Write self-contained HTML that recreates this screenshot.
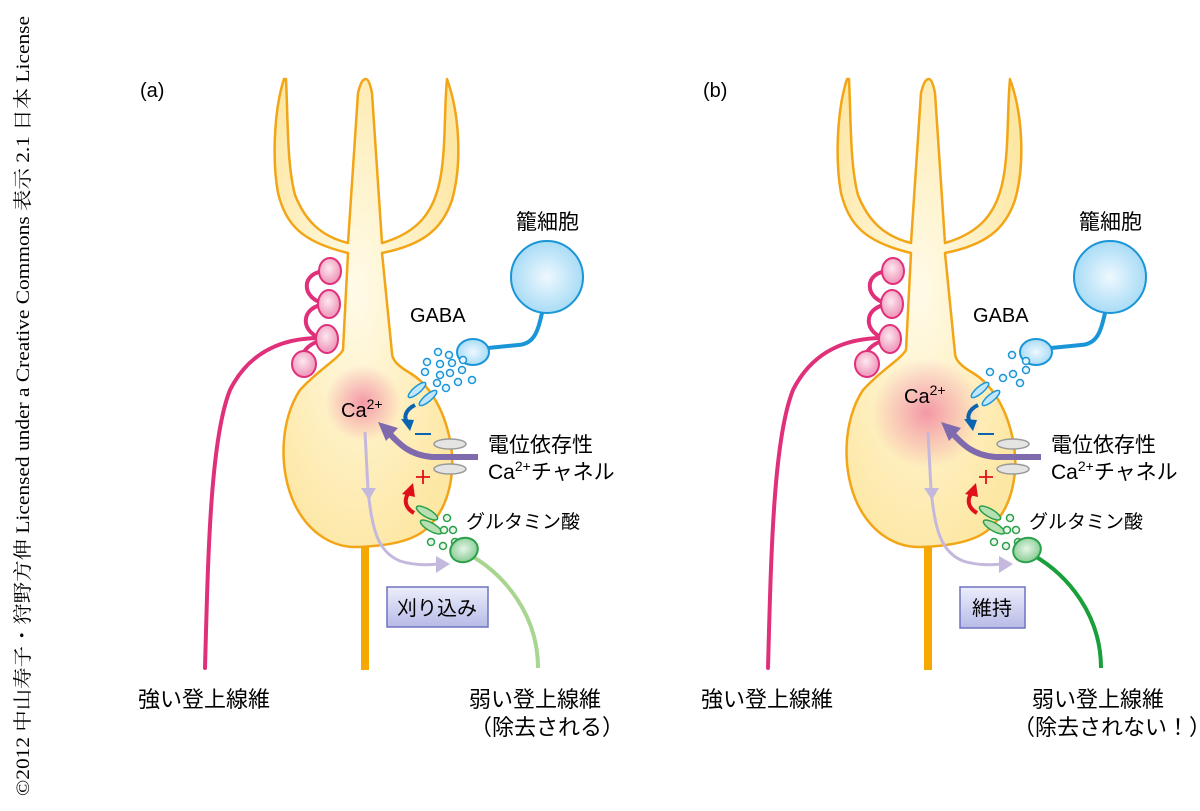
<!DOCTYPE html>
<html><head><meta charset="utf-8"><style>
html,body{margin:0;padding:0;background:#fff;}
svg{display:block;font-family:"Liberation Sans","Noto Sans CJK JP",sans-serif;}
</style></head><body>
<svg width="1200" height="811" viewBox="0 0 1200 811" xmlns="http://www.w3.org/2000/svg">
<defs>
<radialGradient id="soma" cx="0.45" cy="0.45" r="0.6"><stop offset="0" stop-color="#fffbe8"/><stop offset="1" stop-color="#fde7a4"/></radialGradient>
<radialGradient id="glowA"><stop offset="0" stop-color="#f07a9a" stop-opacity="0.75"/><stop offset="1" stop-color="#f07a9a" stop-opacity="0"/></radialGradient>
<radialGradient id="pinkE" cx="0.45" cy="0.4"><stop offset="0" stop-color="#fde8f0"/><stop offset="1" stop-color="#f0a0c0"/></radialGradient>
<radialGradient id="blueE" cx="0.5" cy="0.5"><stop offset="0" stop-color="#eef8fe"/><stop offset="1" stop-color="#a9dcf6"/></radialGradient>
<radialGradient id="greenE" cx="0.5" cy="0.45"><stop offset="0" stop-color="#e6f5e6"/><stop offset="1" stop-color="#8fd09a"/></radialGradient>
<linearGradient id="box" x1="0" y1="0" x2="0" y2="1"><stop offset="0" stop-color="#eceefb"/><stop offset="1" stop-color="#b7bbe6"/></linearGradient>
</defs>

<text transform="translate(29,796) rotate(-90)" font-family="'Liberation Serif','Noto Serif CJK SC',serif" font-size="19" textLength="780" lengthAdjust="spacingAndGlyphs">©2012 中山寿子・狩野方伸 Licensed under a Creative Commons 表示 2.1 日本 License</text>

<g>
<rect x="361" y="545" width="8" height="125" fill="#f4a800"/>
<path d="M284,79 C274,110 272,160 278,193 C286,225 302,242 348,253 L343,350 C337,360 318,370 300,390 C280,420 278,470 295,505 C310,535 335,548 358,547 C390,546 418,540 430,525 C450,505 456,470 450,440 C444,410 430,385 410,373 C398,366 392,360 392,353 L382,253 C422,245 442,230 452,200 C462,165 460,115 447,79 C444,110 446,150 440,180 C434,210 420,232 382,243 L372,93 C370,83 368,79 366,79 C362,79 360,85 358,93 L348,243 C320,236 305,220 295,195 C287,165 288,120 286,79 Z" fill="url(#soma)" stroke="#f2a516" stroke-width="2.5" stroke-linejoin="round"/>
<circle cx="363" cy="403" r="38" fill="url(#glowA)"/>
<g fill="none" stroke="#e0307a" stroke-width="4" stroke-linecap="round">
<path d="M205,668 C208,560 210,440 230,390 C250,350 285,338 320,338"/>
<path d="M327,271 C300,271 300,300 327,304 M327,304 C298,306 300,335 325,339 M322,340 C305,345 300,355 303,364"/>
</g>
<g fill="url(#pinkE)" stroke="#e0307a" stroke-width="2">
<ellipse cx="330" cy="271" rx="11" ry="13"/><ellipse cx="329" cy="304" rx="11" ry="14"/><ellipse cx="327" cy="339" rx="11" ry="14"/><ellipse cx="304" cy="364" rx="12" ry="13"/>
</g>
<circle cx="547" cy="277" r="36" fill="url(#blueE)" stroke="#1a95d8" stroke-width="2"/>
<path d="M542,313 C538,330 535,344 518,345 L488,348" fill="none" stroke="#1a95d8" stroke-width="4"/>
<ellipse cx="473" cy="352" rx="16" ry="13" fill="url(#blueE)" stroke="#1a95d8" stroke-width="2"/>
<g fill="#eaf6fd" stroke="#1a95d8" stroke-width="1.5">
<circle cx="438" cy="352" r="3.5"/><circle cx="449" cy="355" r="3.5"/><circle cx="427" cy="362" r="3.5"/><circle cx="440" cy="364" r="3.5"/><circle cx="452" cy="363" r="3.5"/><circle cx="463" cy="360" r="3.5"/><circle cx="425" cy="372" r="3.5"/><circle cx="440" cy="375" r="3.5"/><circle cx="450" cy="373" r="3.5"/><circle cx="462" cy="370" r="3.5"/><circle cx="472" cy="380" r="3.5"/><circle cx="437" cy="383" r="3.5"/><circle cx="446" cy="388" r="3.5"/><circle cx="458" cy="382" r="3.5"/>
</g>
<g fill="#bfe6fa" stroke="#1a95d8" stroke-width="1.5">
<ellipse cx="417" cy="390" rx="11" ry="3.5" transform="rotate(-40 417 390)"/>
<ellipse cx="428" cy="398" rx="11" ry="3.5" transform="rotate(-40 428 398)"/>
</g>
<path d="M415,405 C405,410 403,418 408,423" fill="none" stroke="#0a64b0" stroke-width="4"/>
<path d="M401,419 L414,420 L410,431 Z" fill="#0a64b0"/>
<line x1="415" y1="434" x2="431" y2="434" stroke="#0a64b0" stroke-width="2"/>
<text x="410" y="322" font-size="20">GABA</text>
<text x="516" y="229" font-size="21">籠細胞</text>
<path d="M478,457 L432,457 C410,455 400,445 388,432" fill="none" stroke="#7f6aae" stroke-width="6"/>
<path d="M378,422 L398,428 L386,441 Z" fill="#7f6aae"/>
<g fill="#e4e4e2" stroke="#999" stroke-width="1.5">
<ellipse cx="450" cy="444" rx="16" ry="5"/><ellipse cx="450" cy="469" rx="16" ry="5"/>
</g>
<text x="341" y="417" font-size="20">Ca<tspan font-size="14" dy="-8">2+</tspan></text>
<text x="488" y="452" font-size="21">電位依存性</text>
<text x="488" y="479" font-size="21">Ca<tspan font-size="14" dy="-8">2+</tspan><tspan dy="8">チャネル</tspan></text>
<path d="M365,432 L368,490 C372,530 378,552 400,561 C415,566 430,565 440,564" fill="none" stroke="#c4b9dc" stroke-width="3"/>
<path d="M361,488 L376,488 L369,500 Z" fill="#c4b9dc"/>
<path d="M436,556 L450,564 L436,573 Z" fill="#c4b9dc"/>
<path d="M414,513 C405,508 404,500 408,494" fill="none" stroke="#e0101a" stroke-width="4"/>
<path d="M402,494 L413,483 L415,497 Z" fill="#e0101a"/>
<path d="M423,470 V484 M416,477 H430" stroke="#e0101a" stroke-width="1.8"/>
<g fill="#b6e0b2" stroke="#2aa04a" stroke-width="1.5">
<ellipse cx="427" cy="513" rx="12" ry="4" transform="rotate(30 427 513)"/>
<ellipse cx="431" cy="527" rx="12" ry="4" transform="rotate(30 431 527)"/>
</g>
<g fill="#eaf7ea" stroke="#2aa04a" stroke-width="1.5">
<circle cx="447" cy="518" r="3.5"/><circle cx="444" cy="530" r="3.5"/><circle cx="453" cy="530" r="3.5"/><circle cx="431" cy="542" r="3.5"/><circle cx="443" cy="546" r="3.5"/><circle cx="455" cy="542" r="3.5"/>
</g>
<path d="M470,555 C505,575 538,615 538,668" fill="none" stroke="#a8d590" stroke-width="4"/>
<ellipse cx="464" cy="550" rx="14" ry="12" fill="url(#greenE)" stroke="#2aa04a" stroke-width="2" transform="rotate(-20 464 550)"/>
<text x="466" y="528" font-size="19">グルタミン酸</text>
<text x="138" y="707" font-size="22">強い登上線維</text>
<text x="140" y="97" font-size="20">(a)</text>
<rect x="387" y="587" width="101" height="40" fill="url(#box)" stroke="#6f73c0" stroke-width="1.5"/>
<text x="437" y="615" font-size="20" text-anchor="middle">刈り込み</text>
<text x="469" y="707" font-size="22">弱い登上線維</text>
<text x="470" y="735" font-size="22">（除去される）</text>
</g>

<g transform="translate(563,0)">
<rect x="361" y="545" width="8" height="125" fill="#f4a800"/>
<path d="M284,79 C274,110 272,160 278,193 C286,225 302,242 348,253 L343,350 C337,360 318,370 300,390 C280,420 278,470 295,505 C310,535 335,548 358,547 C390,546 418,540 430,525 C450,505 456,470 450,440 C444,410 430,385 410,373 C398,366 392,360 392,353 L382,253 C422,245 442,230 452,200 C462,165 460,115 447,79 C444,110 446,150 440,180 C434,210 420,232 382,243 L372,93 C370,83 368,79 366,79 C362,79 360,85 358,93 L348,243 C320,236 305,220 295,195 C287,165 288,120 286,79 Z" fill="url(#soma)" stroke="#f2a516" stroke-width="2.5" stroke-linejoin="round"/>
<circle cx="364" cy="413" r="55" fill="url(#glowA)"/>
<g fill="none" stroke="#e0307a" stroke-width="4" stroke-linecap="round">
<path d="M205,668 C208,560 210,440 230,390 C250,350 285,338 320,338"/>
<path d="M327,271 C300,271 300,300 327,304 M327,304 C298,306 300,335 325,339 M322,340 C305,345 300,355 303,364"/>
</g>
<g fill="url(#pinkE)" stroke="#e0307a" stroke-width="2">
<ellipse cx="330" cy="271" rx="11" ry="13"/><ellipse cx="329" cy="304" rx="11" ry="14"/><ellipse cx="327" cy="339" rx="11" ry="14"/><ellipse cx="304" cy="364" rx="12" ry="13"/>
</g>
<circle cx="547" cy="277" r="36" fill="url(#blueE)" stroke="#1a95d8" stroke-width="2"/>
<path d="M542,313 C538,330 535,344 518,345 L488,348" fill="none" stroke="#1a95d8" stroke-width="4"/>
<ellipse cx="473" cy="352" rx="16" ry="13" fill="url(#blueE)" stroke="#1a95d8" stroke-width="2"/>
<g fill="#eaf6fd" stroke="#1a95d8" stroke-width="1.5">
<circle cx="449" cy="355" r="3.5"/><circle cx="463" cy="361" r="3.5"/><circle cx="427" cy="372" r="3.5"/><circle cx="440" cy="378" r="3.5"/><circle cx="450" cy="374" r="3.5"/><circle cx="463" cy="370" r="3.5"/><circle cx="457" cy="383" r="3.5"/>
</g>
<g fill="#bfe6fa" stroke="#1a95d8" stroke-width="1.5">
<ellipse cx="417" cy="390" rx="11" ry="3.5" transform="rotate(-40 417 390)"/>
<ellipse cx="428" cy="398" rx="11" ry="3.5" transform="rotate(-40 428 398)"/>
</g>
<path d="M415,405 C405,410 403,418 408,423" fill="none" stroke="#0a64b0" stroke-width="4"/>
<path d="M401,419 L414,420 L410,431 Z" fill="#0a64b0"/>
<line x1="415" y1="434" x2="431" y2="434" stroke="#0a64b0" stroke-width="2"/>
<text x="410" y="322" font-size="20">GABA</text>
<text x="516" y="229" font-size="21">籠細胞</text>
<path d="M478,457 L432,457 C410,455 400,445 388,432" fill="none" stroke="#7f6aae" stroke-width="6"/>
<path d="M378,422 L398,428 L386,441 Z" fill="#7f6aae"/>
<g fill="#e4e4e2" stroke="#999" stroke-width="1.5">
<ellipse cx="450" cy="444" rx="16" ry="5"/><ellipse cx="450" cy="469" rx="16" ry="5"/>
</g>
<text x="341" y="403" font-size="20">Ca<tspan font-size="14" dy="-8">2+</tspan></text>
<text x="488" y="452" font-size="21">電位依存性</text>
<text x="488" y="479" font-size="21">Ca<tspan font-size="14" dy="-8">2+</tspan><tspan dy="8">チャネル</tspan></text>
<path d="M365,432 L368,490 C372,530 378,552 400,561 C415,566 430,565 440,564" fill="none" stroke="#c4b9dc" stroke-width="3"/>
<path d="M361,488 L376,488 L369,500 Z" fill="#c4b9dc"/>
<path d="M436,556 L450,564 L436,573 Z" fill="#c4b9dc"/>
<path d="M414,513 C405,508 404,500 408,494" fill="none" stroke="#e0101a" stroke-width="4"/>
<path d="M402,494 L413,483 L415,497 Z" fill="#e0101a"/>
<path d="M423,470 V484 M416,477 H430" stroke="#e0101a" stroke-width="1.8"/>
<g fill="#b6e0b2" stroke="#2aa04a" stroke-width="1.5">
<ellipse cx="427" cy="513" rx="12" ry="4" transform="rotate(30 427 513)"/>
<ellipse cx="431" cy="527" rx="12" ry="4" transform="rotate(30 431 527)"/>
</g>
<g fill="#eaf7ea" stroke="#2aa04a" stroke-width="1.5">
<circle cx="447" cy="518" r="3.5"/><circle cx="444" cy="530" r="3.5"/><circle cx="453" cy="530" r="3.5"/><circle cx="431" cy="542" r="3.5"/><circle cx="443" cy="546" r="3.5"/><circle cx="455" cy="542" r="3.5"/>
</g>
<path d="M470,555 C505,575 538,615 538,668" fill="none" stroke="#1aa03a" stroke-width="4"/>
<ellipse cx="464" cy="550" rx="14" ry="12" fill="url(#greenE)" stroke="#2aa04a" stroke-width="2" transform="rotate(-20 464 550)"/>
<text x="466" y="528" font-size="19">グルタミン酸</text>
<text x="138" y="707" font-size="22">強い登上線維</text>
<text x="140" y="97" font-size="20">(b)</text>
<rect x="397" y="587" width="65" height="41" fill="url(#box)" stroke="#6f73c0" stroke-width="1.5"/>
<text x="429" y="615" font-size="20" text-anchor="middle">維持</text>
<text x="469" y="707" font-size="22">弱い登上線維</text>
<text x="450" y="735" font-size="22">（除去されない！）</text>
</g>
</svg>
</body></html>
